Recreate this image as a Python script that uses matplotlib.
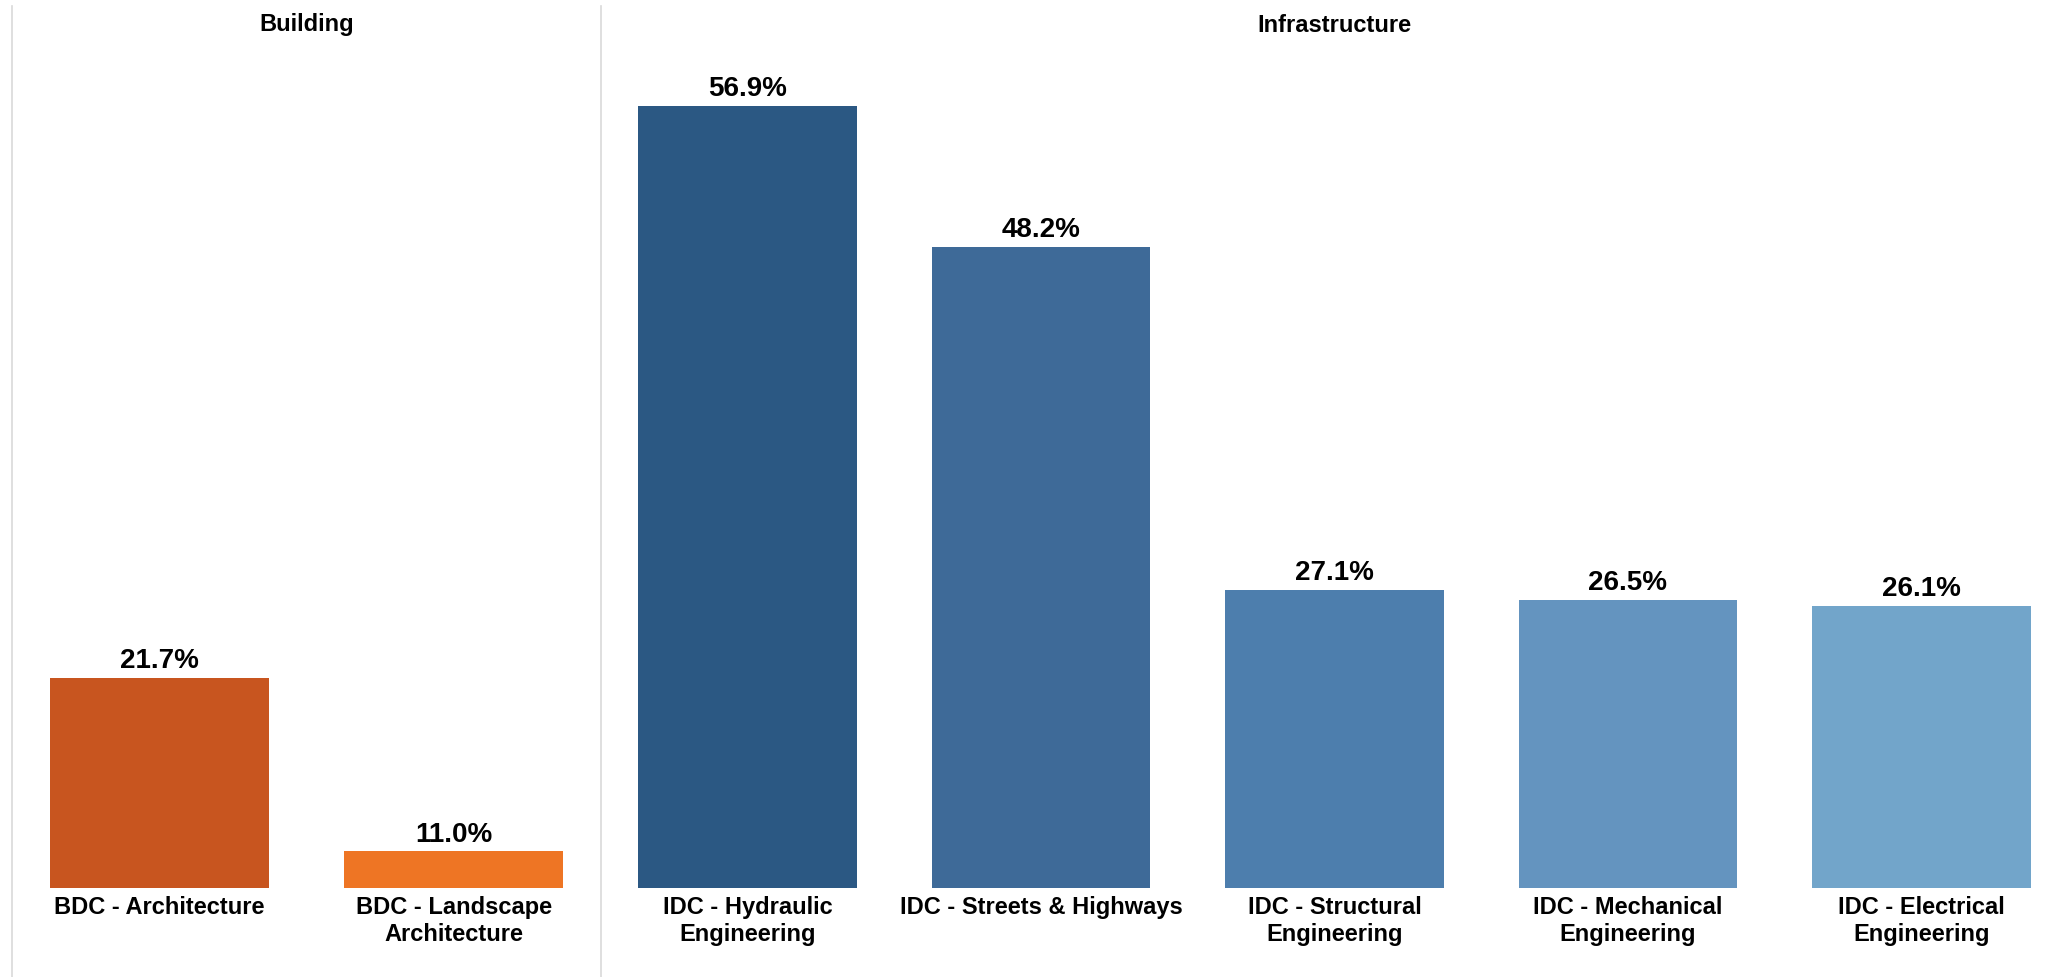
import matplotlib
matplotlib.use("Agg")
import matplotlib.pyplot as plt
from matplotlib.lines import Line2D

plt.rcParams['font.family'] = ['Liberation Sans', 'DejaVu Sans']
plt.rcParams['font.weight'] = 'bold'

# data
building_labels = ['BDC - Architecture', 'BDC - Landscape\nArchitecture']
building_values = [21.7, 11.0]
building_colors = ['#C8551F', '#EE7524']

infra_labels = ['IDC - Hydraulic\nEngineering', 'IDC - Streets & Highways',
                'IDC - Structural\nEngineering', 'IDC - Mechanical\nEngineering',
                'IDC - Electrical\nEngineering']
infra_values = [56.9, 48.2, 27.1, 26.5, 26.1]
infra_colors = ['#2B5883', '#3E6A98', '#4D7EAD', '#6494BF', '#72A5CA']

panel_titles = ['Building', 'Infrastructure']

W, H = 2068, 977
fig = plt.figure(figsize=(W / 100, H / 100), dpi=100)

# shared value axis (Tableau axis does not start at zero here)
y_floor = 8.75
px_per_pct = 16.25
top_px, base_px = 40, 888
y_top = y_floor + (base_px - top_px) / px_per_pct

left_px, mid_px, right_px = 12, 601, 2068

def draw_panel(x0, x1, labels, values, colors, title):
    ax = fig.add_axes([x0 / W, (H - base_px) / H, (x1 - x0) / W, (base_px - top_px) / H])
    pos = list(range(len(values)))
    ax.bar(pos, [v - y_floor for v in values], bottom=y_floor, width=0.745,
           color=colors, edgecolor='none')
    ax.set_xlim(-0.5, len(values) - 0.5)
    ax.set_ylim(y_floor, y_top)
    for i, v in enumerate(values):
        ax.annotate(f'{v:.1f}%', (i, v), xytext=(0, 7), textcoords='offset points',
                    ha='center', va='baseline', fontsize=20, fontweight='bold')
        ax.annotate(labels[i], (i, y_floor), xytext=(0, -6), textcoords='offset points',
                    ha='center', va='top', fontsize=17, fontweight='bold',
                    linespacing=1.2, annotation_clip=False)
    ax.axis('off')
    fig.text((x0 + x1) / 2 / W, 1 - 25 / H, title, ha='center', va='center',
             fontsize=17, fontweight='bold')
    return ax

draw_panel(left_px, mid_px, building_labels, building_values, building_colors, panel_titles[0])
draw_panel(mid_px, right_px, infra_labels, infra_values, infra_colors, panel_titles[1])

# panel border lines
for xp in (left_px, mid_px):
    fig.add_artist(Line2D([xp / W, xp / W], [0, 1 - 6 / H], color='#D9D9D9', linewidth=1.2))

fig.savefig('out.png', dpi=100, facecolor='white')
